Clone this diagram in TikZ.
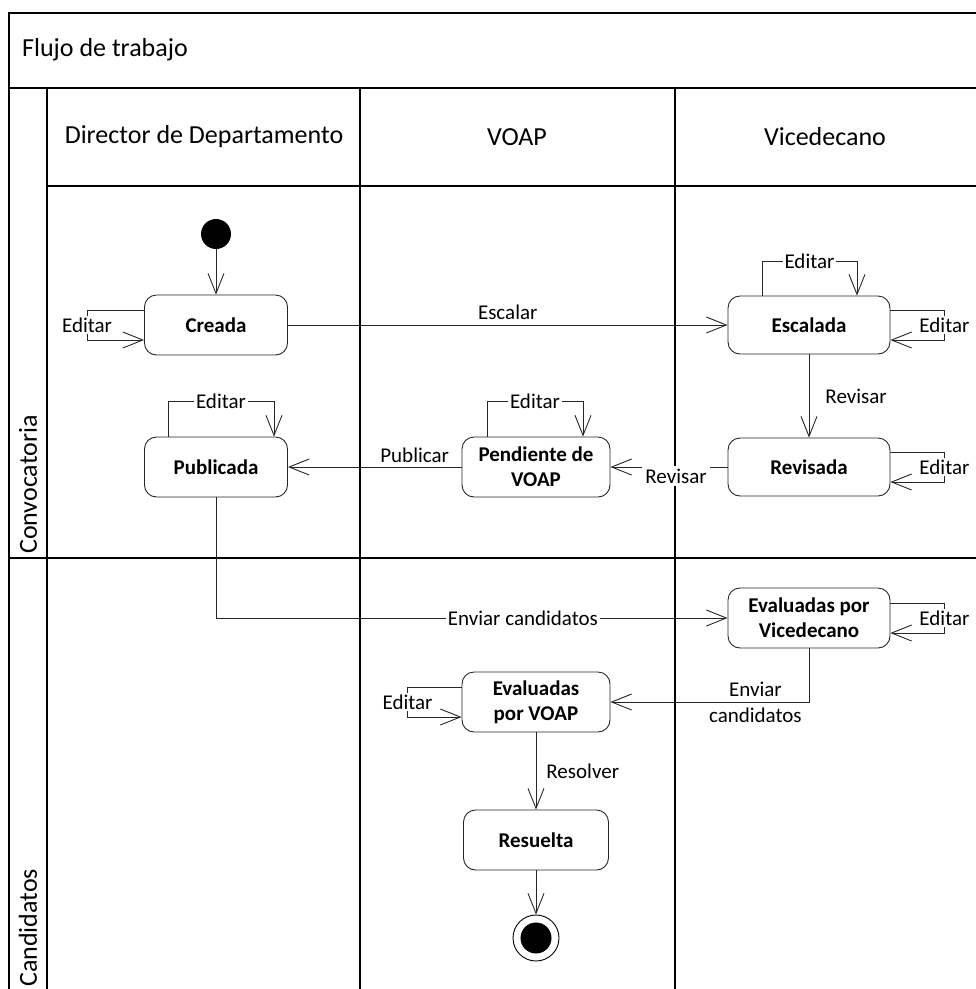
\documentclass[tikz,border=0pt]{standalone}
\usepackage{fontspec}
\setmainfont{Carlito}
\usetikzlibrary{arrows.meta,calc,positioning}
\begin{document}
\begin{tikzpicture}[x=1pt,y=-1pt,
  frame/.style={line width=1.8pt, black},
  flow/.style={line width=0.9pt, black!85, -{Straight Barb[length=20pt,width=16pt]}},
  lbl/.style={font=\fontsize{21}{26}\selectfont, inner sep=2pt, text=black},
  st/.style={draw, line width=0.9pt, black!85, text=black, rounded corners=12pt, minimum height=60pt, align=center, font=\fontsize{21}{25}\selectfont\bfseries, inner sep=2pt},
  hdr/.style={font=\fontsize{26}{30}\selectfont, inner sep=0pt}]
\useasboundingbox (0,0) rectangle (976,989);
\clip (0,0) rectangle (976,989);
% frame
\draw[frame] (9,1000) -- (9,13) -- (990,13);
\draw[frame] (9,88) -- (990,88);
\draw[frame] (47,88) -- (47,1000);
\draw[frame] (47,186) -- (990,186);
\draw[frame] (360,88) -- (360,1000);
\draw[frame] (675,88) -- (675,1000);
\draw[frame] (9,558) -- (990,558);
% headers
\node[hdr, anchor=west] (title) at (22,50) {Flujo de trabajo};
\node[hdr] (h1) at (204,137) {Director de Departamento};
\node[hdr] (h2) at (517,137) {VOAP};
\node[hdr] (h3) at (825,137) {Vicedecano};
\node[hdr, rotate=90, anchor=west] (l1) at (28,554) {Convocatoria};
\node[hdr, rotate=90, anchor=west] (l2) at (28,987) {Candidatos};
% states
\node[circle, fill=black, minimum size=30pt, inner sep=0pt] (init) at (216,234) {};
\node[st, minimum width=143pt] (crea) at (216,325) {Creada};
\node[st, minimum width=143pt] (pub) at (216,467) {Publicada};
\node[st, minimum width=148pt] (pend) at (536,467) {Pendiente de\\VOAP};
\node[st, minimum width=162pt, minimum height=58pt] (esc) at (809,325) {Escalada};
\node[st, minimum width=162pt, minimum height=58pt] (rev) at (809,467) {Revisada};
\node[st, minimum width=162pt] (evv) at (809,618) {Evaluadas por\\Vicedecano};
\node[st, minimum width=148pt] (evo) at (536,702) {Evaluadas\\por VOAP};
\node[st, minimum width=145pt] (res) at (536,840) {Resuelta};
\node[circle, draw, line width=0.9pt, minimum size=46pt, inner sep=0pt] (fin) at (536,938) {};
\node[circle, fill=black, minimum size=31pt, inner sep=0pt] (finin) at (fin.center) {};
% transitions
\draw[flow] (init) -- (crea);
\draw[flow] (crea) -- node[lbl, above=3pt] {Escalar} (esc);
\draw[flow] (esc) -- node[lbl, right=14pt] {Revisar} (rev);
\draw[flow] (rev) -- node[lbl, fill=white, pos=0.44, yshift=-9pt, inner sep=3pt] {Revisar} (pend);
\draw[flow] (pend) -- node[lbl, above=2pt, pos=0.27] {Publicar} (pub);
\draw[flow] (pub) |- node[lbl, fill=white, pos=0.8] {Enviar candidatos} (evv);
\draw[flow] (evv) |- node[lbl, align=center, pos=0.635] {Enviar\\candidatos} (evo);
\draw[flow] (evo) -- node[lbl, right=8pt] {Resolver} (res);
\draw[flow] (res) -- (fin);
% self loops
\draw[flow] ($(crea.west)+(0,-15)$) -- ++(-57,0) -- node[lbl, fill=white] {Editar} ++(0,30) -- ($(crea.west)+(0,15)$);
\draw[flow] ($(pub.north)+(-48,0)$) -- ++(0,-35) -- node[lbl, fill=white] {Editar} ++(106,0) -- ($(pub.north)+(58,0)$);
\draw[flow] ($(pend.north)+(-49,0)$) -- ++(0,-35) -- node[lbl, fill=white] {Editar} ++(96,0) -- ($(pend.north)+(47,0)$);
\draw[flow] ($(esc.north)+(-47,0)$) -- ++(0,-34) -- node[lbl, fill=white] {Editar} ++(95,0) -- ($(esc.north)+(48,0)$);
\draw[flow] ($(esc.east)+(0,-15)$) -- ++(54,0) -- node[lbl, fill=white] {Editar} ++(0,30) -- ($(esc.east)+(0,15)$);
\draw[flow] ($(rev.east)+(0,-15)$) -- ++(54,0) -- node[lbl, fill=white] {Editar} ++(0,30) -- ($(rev.east)+(0,15)$);
\draw[flow] ($(evv.east)+(0,-15)$) -- ++(54,0) -- node[lbl, fill=white] {Editar} ++(0,30) -- ($(evv.east)+(0,15)$);
\draw[flow] ($(evo.west)+(0,-15)$) -- ++(-54,0) -- node[lbl, fill=white] {Editar} ++(0,30) -- ($(evo.west)+(0,15)$);
\end{tikzpicture}
\end{document}
